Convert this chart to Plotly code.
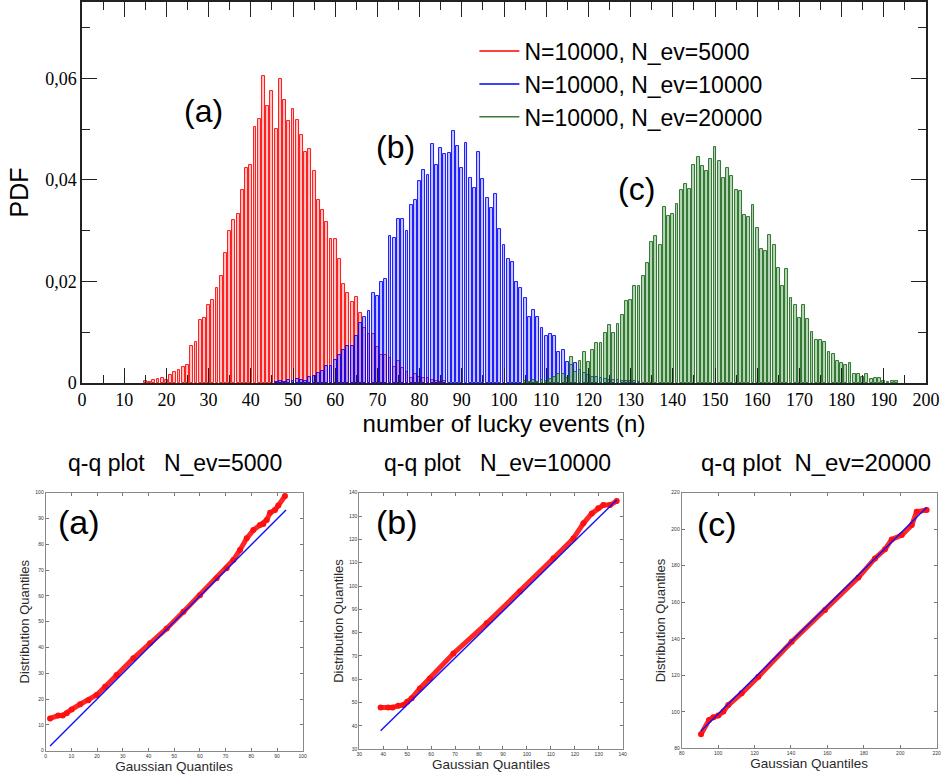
import plotly.graph_objects as go

W, H = 945, 779

# ---------------- histogram data ----------------
red_n = list(range(15, 87))
red_pdf = [0.0004, 0.0001, 0.0005, 0.0007, 0.001, 0.0006, 0.0016, 0.0022, 0.0026, 0.0031,
           0.0036, 0.0072, 0.008, 0.0124, 0.0128, 0.0154, 0.0164, 0.0188, 0.0211, 0.0256,
           0.0299, 0.032, 0.0333, 0.038, 0.0424, 0.0429, 0.0503, 0.0519, 0.0604, 0.0546,
           0.0574, 0.05, 0.0598, 0.0557, 0.0516, 0.054, 0.0517, 0.0488, 0.0455, 0.046,
           0.0417, 0.036, 0.034, 0.0316, 0.0284, 0.0284, 0.0244, 0.0195, 0.0178, 0.016,
           0.017, 0.0138, 0.0108, 0.0096, 0.0097, 0.007, 0.0055, 0.0055, 0.0049, 0.0031,
           0.0044, 0.003, 0.0021, 0.0009, 0.0017, 0.0012, 0.0009, 0.0009, 0.0006, 0.0004,
           0.0002, 0.0003]

blue_n = list(range(46, 133))
blue_pdf = [0.0002, 0.0003, 0.0002, 0.0005, 0.0003, 0.0008, 0.0006, 0.0003, 0.0012, 0.0013,
            0.0019, 0.0024, 0.0034, 0.0034, 0.0045, 0.0055, 0.0064, 0.0073, 0.0073, 0.0093,
            0.0118, 0.013, 0.0141, 0.0178, 0.0172, 0.0199, 0.0205, 0.029, 0.0286, 0.0323,
            0.0323, 0.0299, 0.0351, 0.0361, 0.0397, 0.042, 0.0409, 0.0471, 0.043, 0.0463,
            0.0451, 0.0453, 0.0496, 0.0467, 0.0424, 0.0473, 0.0404, 0.0384, 0.0455, 0.0402,
            0.0365, 0.0345, 0.0373, 0.0303, 0.0272, 0.0244, 0.0238, 0.0198, 0.0187, 0.0167,
            0.013, 0.0143, 0.013, 0.0108, 0.0093, 0.0097, 0.0093, 0.0062, 0.0065, 0.0042,
            0.0036, 0.0039, 0.0026, 0.0019, 0.0015, 0.0011, 0.0011, 0.0009, 0.0008, 0.0006,
            0.0006, 0.0005, 0.0004, 0.0003, 0.0004, 0.0003, 0.0002]

green_n = list(range(105, 194))
green_pdf = [0.0003, 0.0002, 0.0006, 0.0002, 0.0006, 0.0004, 0.0008, 0.0012, 0.0018, 0.0018,
             0.0009, 0.0052, 0.0021, 0.0044, 0.0062, 0.0042, 0.0065, 0.0078, 0.0079, 0.0099,
             0.0114, 0.0098, 0.0116, 0.0134, 0.0162, 0.0164, 0.019, 0.019, 0.0211, 0.0236,
             0.0278, 0.029, 0.0272, 0.0347, 0.0328, 0.0332, 0.0353, 0.0379, 0.0391, 0.0381,
             0.043, 0.0444, 0.0428, 0.0417, 0.044, 0.0465, 0.0437, 0.0404, 0.0424, 0.0407,
             0.038, 0.0378, 0.033, 0.0327, 0.0351, 0.0305, 0.0264, 0.0259, 0.0292, 0.0272,
             0.0226, 0.019, 0.0224, 0.0167, 0.0154, 0.0128, 0.0154, 0.0126, 0.01, 0.0085,
             0.0084, 0.008, 0.0061, 0.0057, 0.0043, 0.0039, 0.0035, 0.004, 0.0017, 0.0017,
             0.0012, 0.0017, 0.0007, 0.001, 0.001, 0.0003, 0.0001, 0.0003, 0.0003]

legend_labels = ["N=10000, N_ev=5000", "N=10000, N_ev=10000", "N=10000, N_ev=20000"]

# ---------------- q-q data ----------------
qa_gauss = [1.7, 4.9, 6.6, 8.2, 10.1, 13.4, 16.6, 19.8, 23.1, 27.6, 34.1, 40.6, 47.1, 53.6,
            60.0, 66.5, 70.4, 73.0, 75.6, 78.2, 80.8, 83.4, 84.7, 86.0, 87.3, 89.2, 90.5, 93.1]
qa_dist = [12.5, 13.6, 13.6, 14.5, 16.0, 18.0, 19.6, 21.6, 24.8, 29.3, 35.8, 41.6, 47.4, 53.9,
           60.3, 66.8, 70.7, 73.9, 77.8, 82.3, 85.5, 87.5, 87.9, 89.4, 92.2, 93.3, 95.0, 98.7]
qa_line_x = [1.7, 93.5]
qa_line_y = [1.8, 93.3]

qb_gauss = [38.9, 42.1, 43.9, 46.3, 48.4, 50.0, 51.9, 55.3, 59.5, 69.3, 83.2, 97.1, 111.1,
            119.4, 123.6, 127.1, 129.8, 131.9, 134.7, 137.5]
qb_dist = [47.9, 47.9, 47.9, 48.7, 49.0, 50.4, 51.9, 56.1, 60.4, 71.1, 84.0, 97.6, 111.9,
           120.4, 126.9, 131.1, 133.3, 134.7, 134.7, 136.4]
qb_line_x = [38.9, 137.5]
qb_line_y = [37.9, 136.9]

qc_gauss = [90.6, 95.0, 97.4, 100.1, 102.9, 105.6, 112.9, 122.1, 140.4, 158.7, 177.0, 186.1,
            191.6, 195.3, 200.8, 206.3, 209.0, 214.5]
qc_dist = [87.7, 95.5, 97.0, 97.9, 100.1, 103.7, 110.1, 119.2, 138.4, 155.7, 173.6, 184.0,
           189.0, 194.4, 196.8, 202.3, 209.6, 210.5]
qc_line_x = [90.6, 214.5]
qc_line_y = [89.5, 212.0]

qq_titles = ["q-q plot\u00a0\u00a0\u00a0N_ev=5000", "q-q plot\u00a0\u00a0\u00a0N_ev=10000",
             "q-q plot\u00a0\u00a0N_ev=20000"]
qq_tags = ["(a)", "(b)", "(c)"]

# ---------------- figure ----------------
fig = go.Figure()

series = [
    (red_n, red_pdf, "rgba(255,0,0,0.22)", "#ff0000"),
    (blue_n, blue_pdf, "rgba(0,0,255,0.22)", "#0000ff"),
    (green_n, green_pdf, "rgba(70,160,70,0.40)", "#1c661c"),
]
for xs, ys, fill, line in series:
    fig.add_trace(go.Bar(x=xs, y=ys, width=0.68,
                         marker=dict(color=fill, line=dict(color=line, width=0.9)),
                         showlegend=False, hoverinfo="skip", xaxis="x", yaxis="y"))
leg_colors = ["#ff0000", "#0000ff", "#3a7a3a"]
for i, name in enumerate(legend_labels):
    fig.add_trace(go.Scatter(x=[None], y=[None], mode="lines", name=name, legendgroup=str(i),
                             line=dict(color=leg_colors[i], width=1.5), xaxis="x", yaxis="y"))

qq = [(qa_gauss, qa_dist, qa_line_x, qa_line_y),
      (qb_gauss, qb_dist, qb_line_x, qb_line_y),
      (qc_gauss, qc_dist, qc_line_x, qc_line_y)]
for k, (gx, dy, lx, ly) in enumerate(qq):
    xa, ya = "x%d" % (k + 2), "y%d" % (k + 2)
    fig.add_trace(go.Scatter(x=gx, y=dy, mode="lines+markers", showlegend=False,
                             line=dict(color="rgba(255,0,0,0.85)", width=5),
                             marker=dict(color="#ff1010", size=6), xaxis=xa, yaxis=ya))
    fig.add_trace(go.Scatter(x=lx, y=ly, mode="lines", showlegend=False,
                             line=dict(color="#1010ff", width=1.4), xaxis=xa, yaxis=ya))

serif = "Liberation Serif, Times New Roman, serif"
sans = "Liberation Sans, Arial, sans-serif"


def px_x(a, b):
    return [a / W, b / W]


def px_y(top, bottom):
    return [1 - bottom / H, 1 - top / H]


layout = dict(
    width=W, height=H, margin=dict(l=0, r=0, t=0, b=0, autoexpand=False),
    paper_bgcolor="white", plot_bgcolor="white",
    separators=",.", barmode="overlay", bargap=0,
    font=dict(family=sans, color="black"),
    showlegend=True,
    legend=dict(x=0.502, y=0.962, xanchor="left", yanchor="top", bgcolor="rgba(0,0,0,0)",
                font=dict(family=sans, size=23, color="black"), itemwidth=40,
                tracegroupgap=0, traceorder="grouped"),
)
layout["xaxis"] = dict(domain=px_x(82, 926), range=[0, 200], anchor="y", dtick=10, tick0=0,
                       ticks="inside", ticklen=15, tickwidth=1.2, tickcolor="#222",
                       showline=True, linecolor="#222", linewidth=1.5, mirror="allticks",
                       showgrid=False, zeroline=False, automargin=False,
                       minor=dict(dtick=5, ticks="inside", ticklen=8, tickcolor="#222", tickwidth=1.2),
                       tickfont=dict(family=serif, size=18, color="black"),
                       title=dict(text="number of lucky events (n)", font=dict(family=sans, size=24),
                                  standoff=4))
layout["yaxis"] = dict(domain=px_y(2, 383), range=[0, 0.075], anchor="x", dtick=0.02, tick0=0,
                       ticks="inside", ticklen=15, tickwidth=1.2, tickcolor="#222",
                       showline=True, linecolor="#222", linewidth=1.5, mirror="allticks",
                       showgrid=False, zeroline=False, automargin=False,
                       minor=dict(dtick=0.01, ticks="inside", ticklen=8, tickcolor="#222", tickwidth=1.2),
                       tickfont=dict(family=serif, size=18, color="black"),
                       title=dict(text="PDF", font=dict(family=sans, size=25), standoff=9))

qq_dom_x = [(45.7, 302.7), (359.3, 622.7), (681.7, 936.7)]
qq_dom_y = [(492.7, 750.7), (492.7, 749.3), (492.7, 748.3)]
qq_range = [(0, 100, 10), (30, 140, 10), (80, 220, 20)]
for k in range(3):
    lo, hi, dt = qq_range[k]
    common = dict(range=[lo, hi], dtick=dt, tick0=lo, ticks="inside", ticklen=3, tickwidth=0.8,
                  tickcolor="#777", showline=True, linecolor="#888", linewidth=1, mirror="allticks",
                  showgrid=False, zeroline=False, automargin=False,
                  tickfont=dict(family=sans, size=5, color="#333"))
    layout["xaxis%d" % (k + 2)] = dict(domain=px_x(*qq_dom_x[k]), anchor="y%d" % (k + 2),
                                       title=dict(text="Gaussian Quantiles",
                                                  font=dict(family=sans, size=13.5, color="#2a2a2a"),
                                                  standoff=2), **common)
    layout["yaxis%d" % (k + 2)] = dict(domain=px_y(*qq_dom_y[k]), anchor="x%d" % (k + 2),
                                       title=dict(text="Distribution Quantiles",
                                                  font=dict(family=sans, size=13, color="#2a2a2a"),
                                                  standoff=2), **common)

annotations = []
for txt, xv, yv in [("(a)", 28.7, 0.0535), ("(b)", 74.2, 0.0464), ("(c)", 131.5, 0.0381)]:
    annotations.append(dict(text=txt, x=xv, y=yv, xref="x", yref="y", showarrow=False,
                            xanchor="center", yanchor="middle",
                            font=dict(family=sans, size=32, color="black")))
qq_title_pos = [(175, 463), (497, 463), (816, 463)]
qq_title_size = [23, 23, 24]
for k in range(3):
    tx, ty = qq_title_pos[k]
    annotations.append(dict(text=qq_titles[k], x=tx / W, y=1 - ty / H, xref="paper", yref="paper",
                            xanchor="center", yanchor="middle", showarrow=False,
                            font=dict(family=sans, size=qq_title_size[k], color="black")))
qq_tag_pos = [(79, 522), (397, 522), (717, 524)]
for k in range(3):
    tx, ty = qq_tag_pos[k]
    annotations.append(dict(text=qq_tags[k], x=tx / W, y=1 - ty / H, xref="paper", yref="paper",
                            xanchor="center", yanchor="middle", showarrow=False,
                            font=dict(family=sans, size=34, color="black")))
layout["annotations"] = annotations

fig.update_layout(**layout)
fig.write_html("out.html", config={"displayModeBar": False},
               post_script="document.body.style.margin='0';document.body.style.padding='0';"
                           "document.documentElement.style.overflow='hidden';")
